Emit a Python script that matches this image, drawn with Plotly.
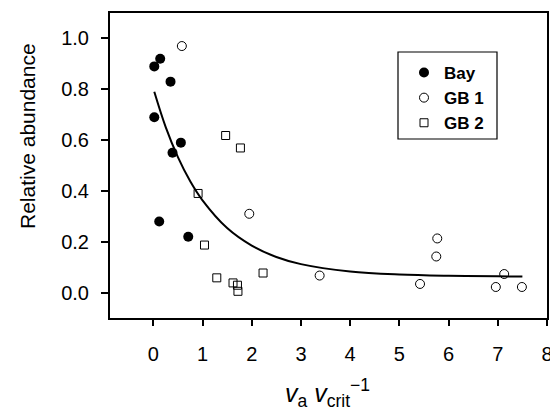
import plotly.graph_objects as go

# ---- data ----
bay_x = [0.02, 0.14, 0.35, 0.02, 0.56, 0.39, 0.12, 0.71]
bay_y = [0.89, 0.92, 0.83, 0.69, 0.59, 0.55, 0.28, 0.22]

gb1_x = [0.58, 1.95, 3.38, 5.42, 5.77, 5.75, 7.13, 6.96, 7.49]
gb1_y = [0.97, 0.31, 0.067, 0.034, 0.213, 0.142, 0.073, 0.022, 0.022]

gb2_x = [1.47, 1.77, 0.91, 1.04, 1.29, 1.62, 1.71, 1.72, 2.23]
gb2_y = [0.618, 0.569, 0.39, 0.187, 0.058, 0.038, 0.029, 0.005, 0.077]

fit_x = [0.02, 0.25, 0.5, 0.75, 1.0, 1.5, 2.0, 2.5, 3.0, 4.0, 5.0, 6.0, 7.0, 7.5]
fit_y = [0.79, 0.652, 0.533, 0.438, 0.363, 0.254, 0.185, 0.140, 0.112, 0.083, 0.071, 0.066, 0.064, 0.063]

x_ticks = [0, 1, 2, 3, 4, 5, 6, 7, 8]
y_ticks = [0.0, 0.2, 0.4, 0.6, 0.8, 1.0]

FONT = "Liberation Sans, Arial, sans-serif"

fig = go.Figure()
fig.add_trace(go.Scatter(x=fit_x, y=fit_y, mode="lines", line=dict(color="black", width=2, shape="spline"),
                         showlegend=False, hoverinfo="skip"))
fig.add_trace(go.Scatter(x=bay_x, y=bay_y, mode="markers", name="Bay",
                         marker=dict(symbol="circle", size=10, color="black", line=dict(color="black", width=0))))
fig.add_trace(go.Scatter(x=gb1_x, y=gb1_y, mode="markers", name="GB 1",
                         marker=dict(symbol="circle-open", size=9, color="black", line=dict(color="black", width=1))))
fig.add_trace(go.Scatter(x=gb2_x, y=gb2_y, mode="markers", name="GB 2",
                         marker=dict(symbol="square-open", size=8, color="black", line=dict(color="black", width=1))))

# plot area: x 110..547, y 13..318 (pixels)
L, R, T, B = 110, 3, 13, 94
W, H = 550, 412
pw, ph = W - L - R, H - T - B

def px(xp):
    return (xp - L) / pw

def py(yp):
    return (H - B - yp) / ph

fig.update_layout(
    width=W, height=H,
    margin=dict(l=L, r=R, t=T, b=B, autoexpand=False),
    paper_bgcolor="white", plot_bgcolor="white",
    font=dict(family=FONT, color="black", size=20),
    showlegend=True,
    legend=dict(x=px(404), y=py(55), xanchor="left", yanchor="top",
                bgcolor="rgba(0,0,0,0)", borderwidth=0,
                font=dict(family=FONT, size=17, color="black", weight="bold"),
                tracegroupgap=0),
    xaxis=dict(range=[-0.88, 8.0], tickvals=x_ticks, ticktext=[str(v) for v in x_ticks],
               showline=True, mirror=True, linecolor="black", linewidth=2,
               ticks="outside", ticklen=6, tickwidth=1.5, tickcolor="black",
               showgrid=False, zeroline=False, ticklabelstandoff=11,
               ticklabeloverflow="allow", automargin=False,
               tickfont=dict(size=20)),
    yaxis=dict(range=[-0.1, 1.1], tickvals=y_ticks, ticktext=[f"{v:.1f}" for v in y_ticks],
               showline=True, mirror=True, linecolor="black", linewidth=2,
               ticks="outside", ticklen=7, tickwidth=1.5, tickcolor="black",
               showgrid=False, zeroline=False, ticklabelstandoff=8, automargin=False,
               tickfont=dict(size=20)),
    shapes=[dict(type="rect", xref="paper", yref="paper",
                 x0=px(398), x1=px(497), y0=py(139), y1=py(52),
                 line=dict(color="black", width=1.2), fillcolor="rgba(0,0,0,0)")],
    annotations=[
        dict(text="Relative abundance", xref="paper", yref="paper", x=px(27), y=py(136),
             textangle=-90, showarrow=False, xanchor="center", yanchor="middle",
             font=dict(family=FONT, size=21, color="black")),
        dict(text="<i>v</i><sub>a</sub> <i>v</i><sub>crit</sub><sup>\u22121</sup>", xref="paper", yref="paper",
             x=px(327), y=py(393), showarrow=False, xanchor="center", yanchor="middle",
             font=dict(family=FONT, size=25, color="black")),
    ],
)

fig.write_html("out.html")
